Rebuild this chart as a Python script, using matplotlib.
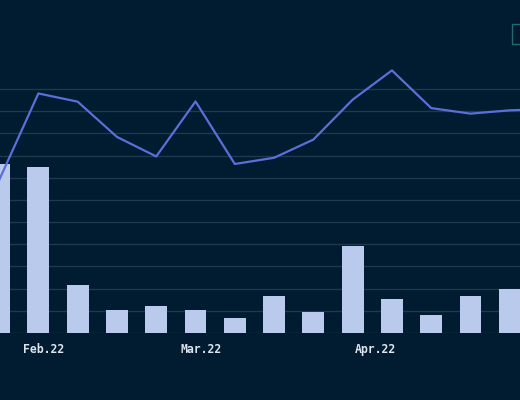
import matplotlib
matplotlib.use("Agg")
import matplotlib.pyplot as plt
import matplotlib.dates as mdates
import numpy as np
import pandas as pd

# weekly data (Mondays)
bar_weeks = pd.date_range("2022-01-24", periods=14, freq="7D")
bar_values = [7.60, 7.48, 2.18, 1.05, 1.23, 1.05, 0.68, 1.65, 0.93, 3.94, 1.52, 0.79, 1.65, 1.98]

line_weeks = pd.date_range("2022-01-24", periods=15, freq="7D")
line_values = [6.89, 10.80, 10.43, 8.84, 7.96, 10.44, 7.62, 7.90, 8.72, 10.52, 11.84, 10.14, 9.89, 10.04, 10.10]

month_ticks = pd.to_datetime(["2022-02-01", "2022-03-01", "2022-04-01"])
month_labels = ["Feb.22", "Mar.22", "Apr.22"]

bg = "#011b30"
bar_color = "#b9caec"
line_color = "#5a6fd8"
grid_color = "#1f3a4f"
text_color = "#dde4ee"

fig = plt.figure(figsize=(5.2, 4), dpi=100, facecolor=bg)
# chart is cropped on the left and right, axes run past the figure edges
ax = fig.add_axes([0, 67 / 400, 1, 13.5 * 22.18 / 400])
ax.set_facecolor(bg)

px_per_day = 5.612
left = mdates.date2num(pd.Timestamp("2022-02-01")) - 44 / px_per_day
ax.set_xlim(left, left + 520 / px_per_day)
ax.set_ylim(0, 13.5)

ax.bar(bar_weeks, bar_values, width=3.9, color=bar_color, zorder=2)
ax.plot(line_weeks, line_values, color=line_color, linewidth=1.6, zorder=3)

ax.set_yticks(np.arange(0, 12))
ax.yaxis.grid(True, color=grid_color, linewidth=1)
ax.set_axisbelow(True)
ax.tick_params(axis="y", left=False, labelleft=False)

ax.set_xticks(month_ticks)
ax.set_xticklabels(month_labels, fontfamily="DejaVu Sans Mono", fontweight="bold",
                   fontsize=8.3, color=text_color)
ax.tick_params(axis="x", length=0, pad=7)

for s in ax.spines.values():
    s.set_visible(False)

# legend box, mostly cut off at the right edge
leg = fig.legend(handles=[plt.Line2D([], [], color=bg, alpha=0)], labels=[" "],
                 loc="upper left", bbox_to_anchor=(512 / 520, 1 - 24 / 400),
                 borderaxespad=0, frameon=True, borderpad=0.5, fontsize=7,
                 handlelength=1.5)
leg.get_frame().set_facecolor(bg)
leg.get_frame().set_edgecolor("#2a8082")
leg.get_frame().set_linewidth(1.0)
leg.get_frame().set_boxstyle("square", pad=0)

fig.savefig("out.png", dpi=100, facecolor=bg)
